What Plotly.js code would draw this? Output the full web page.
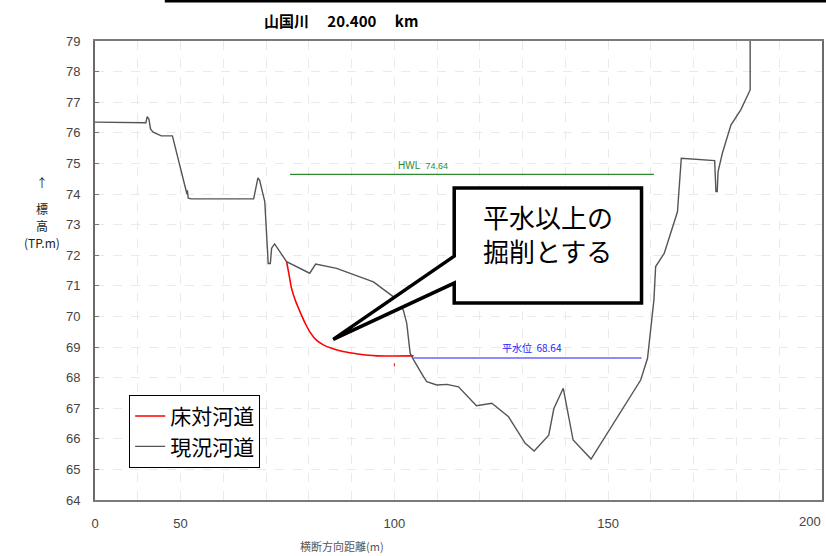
<!DOCTYPE html>
<html>
<head>
<meta charset="utf-8">
<script src="https://cdn.plot.ly/plotly-3.0.1.min.js"></script>
<style>html,body{margin:0;padding:0;background:#fff;}#chart{width:826px;height:556px;}</style>
</head>
<body>
<div id="chart"></div>
<script>
// 現況河道 (current channel)
const currentX = [30, 41.9, 42.2, 42.6, 43.0, 43.6, 45.5, 48.1, 51.5, 51.6, 51.8, 52.5, 67.1, 68.1, 68.5, 69.7, 70.5, 71.0, 71.3, 72.0, 74.8, 80.2, 81.6, 86.5, 95.1, 99.8, 102.1, 102.9, 103.7, 104.5, 106.8, 107.6, 109.9, 112.3, 115.0, 119.2, 122.8, 126.7, 130.6, 132.7, 136.1, 137.3, 139.5, 141.2, 141.8, 146.0, 151.3, 157.6, 159.2, 159.8, 160.7, 161.1, 163.1, 166.2, 167.1, 174.9, 175.2, 175.5, 175.7, 176.7, 177.7, 178.7, 181.0, 183.2, 183.2];
const currentY = [76.35, 76.33, 76.53, 76.45, 76.12, 76.02, 75.9, 75.9, 74.0, 74.12, 73.86, 73.84, 73.84, 74.53, 74.45, 73.75, 71.73, 71.73, 72.23, 72.37, 71.79, 71.41, 71.71, 71.57, 71.13, 70.64, 70.21, 69.77, 68.79, 68.58, 68.03, 67.87, 67.76, 67.78, 67.7, 67.08, 67.16, 66.72, 65.85, 65.6, 66.12, 66.99, 67.65, 66.34, 65.96, 65.34, 66.51, 67.92, 68.63, 69.45, 70.54, 71.63, 72.06, 73.42, 75.17, 75.09, 74.08, 74.08, 74.73, 75.33, 75.76, 76.25, 76.75, 77.4, 79.0];
// 床対河道 (planned channel)
const planX = [74.8, 75.4, 75.9, 76.9, 78.1, 79.2, 80.4, 81.7, 83.4, 85.5, 88.0, 91.5, 95.9, 104.5];
const planY = [71.79, 71.35, 70.95, 70.5, 70.1, 69.76, 69.46, 69.23, 69.07, 68.95, 68.85, 68.77, 68.71, 68.71];
const markX = [100, 100];
const markY = [68.47, 68.37];
// water levels
const hwlX = [75.6, 160.7];
const hwlLevel = 74.64;
const normalX = [104.5, 157.8];
const normalLevel = 68.64;
// axis
const xTickVals = [30, 50, 100, 150];
const xTickText = ['0', '50', '100', '150'];
const xLastTick = 200;
const xLastTickText = '200';
const yTickVals = [64, 65, 66, 67, 68, 69, 70, 71, 72, 73, 74, 75, 76, 77, 78, 79];

const traces = [
  {x: planX, y: planY, mode: 'lines', name: '床対河道', line: {color: '#ff0000', width: 1.6, shape: 'spline', smoothing: 0.6}},
  {x: currentX, y: currentY, mode: 'lines', name: '現況河道', line: {color: '#555555', width: 1.4}},
  {x: hwlX, y: hwlX.map(() => hwlLevel), mode: 'lines', showlegend: false, line: {color: '#2e8b2e', width: 1.2}},
  {x: normalX, y: normalX.map(() => normalLevel), mode: 'lines', showlegend: false, line: {color: '#1a1aff', width: 1.2}},
  {x: markX, y: markY, mode: 'lines', showlegend: false, line: {color: '#ff0000', width: 1}}
];

const tickFont = {family: 'Liberation Sans, Arial, sans-serif', size: 13, color: '#444'};
const yTitleFont = {family: 'Noto Sans CJK JP', size: 12, color: '#222'};
const layout = {
  width: 826, height: 556,
  margin: {l: 95, r: 4, t: 41, b: 56},
  paper_bgcolor: '#fff', plot_bgcolor: '#fff',
  showlegend: true,
  title: {
    text: '山国川　 20.400　 km',
    font: {family: 'Noto Sans CJK JP', size: 15, color: '#000', weight: 'bold'},
    xref: 'container', yref: 'container', x: 0.413, xanchor: 'center', y: 0.96, yanchor: 'middle'
  },
  xaxis: {
    range: [30, 200], tickmode: 'array', tickvals: xTickVals, ticktext: xTickText,
    showgrid: false, zeroline: false, ticks: '', ticklabelstandoff: 10,
    showline: true, mirror: true, linecolor: '#7a7a7a', linewidth: 2,
    tickfont: tickFont,
    minor: {tickmode: 'linear', tick0: 0, dtick: 10, showgrid: true, gridcolor: '#eaeaea', griddash: 'dash', gridwidth: 1, ticks: ''}
  },
  yaxis: {
    range: [64, 79], tickmode: 'array', tickvals: yTickVals,
    showgrid: true, gridcolor: '#eaeaea', griddash: 'dash', zeroline: false,
    ticks: 'inside', ticklen: 4, tickcolor: '#777', ticklabelstandoff: 10,
    showline: true, mirror: true, linecolor: '#6a6a6a', linewidth: 2,
    tickfont: tickFont
  },
  legend: {
    x: 0.047, y: 0.229, xanchor: 'left', yanchor: 'top',
    bgcolor: '#fff', bordercolor: '#000', borderwidth: 1,
    font: {family: 'Noto Sans CJK JP', size: 21, color: '#000'},
    itemwidth: 30, traceorder: 'normal'
  },
  shapes: [
    {type: 'path', xref: 'x', yref: 'y', layer: 'above',
     path: 'M 114,74.2 L 157.8,74.2 L 157.8,70.44 L 114,70.44 L 114,71.09 L 85.7,69.25 L 114,71.97 Z',
     fillcolor: '#fff', line: {color: '#000', width: 3.5}},
    {type: 'line', xref: 'paper', yref: 'paper', x0: 0.096, x1: 1.01, y0: 1.087, y1: 1.087,
     line: {color: '#000', width: 3}}
  ],
  annotations: [
    {xref: 'x', yref: 'y', x: 135.9, y: 73.28, text: '平水以上の', showarrow: false,
     font: {family: 'Noto Sans CJK JP', size: 26, color: '#000'}},
    {xref: 'x', yref: 'y', x: 135.9, y: 72.14, text: '掘削とする', showarrow: false,
     font: {family: 'Noto Sans CJK JP', size: 26, color: '#000'}},
    {xref: 'x', yref: 'y', x: 106.7, y: 74.64, yanchor: 'bottom', yshift: 1, text: 'HWL  <span style="font-size:9px">74.64</span>', showarrow: false,
     font: {family: 'Liberation Sans, Arial, sans-serif', size: 10, color: '#2e8b2e'}},
    {xref: 'x', yref: 'y', x: 132.3, y: 68.64, yanchor: 'bottom', yshift: 1, text: '平水位  68.64', showarrow: false,
     font: {family: 'Noto Sans CJK JP', size: 10, color: '#1a1aff'}},
    {xref: 'paper', yref: 'paper', x: -0.073, y: 0.691, text: '↑', showarrow: false,
     xanchor: 'center', yanchor: 'middle', font: yTitleFont},
    {xref: 'paper', yref: 'paper', x: -0.073, y: 0.636, text: '標', showarrow: false,
     xanchor: 'center', yanchor: 'middle', font: yTitleFont},
    {xref: 'paper', yref: 'paper', x: -0.073, y: 0.599, text: '高', showarrow: false,
     xanchor: 'center', yanchor: 'middle', font: yTitleFont},
    {xref: 'paper', yref: 'paper', x: -0.073, y: 0.561, text: '(TP.m)', showarrow: false,
     xanchor: 'center', yanchor: 'middle', font: yTitleFont},
    {xref: 'x', yref: 'paper', x: xLastTick, y: -0.046, text: xLastTickText, showarrow: false,
     xanchor: 'right', yanchor: 'middle', xshift: 1, font: tickFont},
    {xref: 'paper', yref: 'paper', x: 0.34, y: -0.1, yanchor: 'middle', xanchor: 'center', text: '横断方向距離(m)', showarrow: false,
     font: {family: 'Noto Sans CJK JP', size: 11, color: '#555'}}
  ]
};

Plotly.newPlot('chart', traces, layout, {displayModeBar: false, staticPlot: true});
</script>
</body>
</html>
